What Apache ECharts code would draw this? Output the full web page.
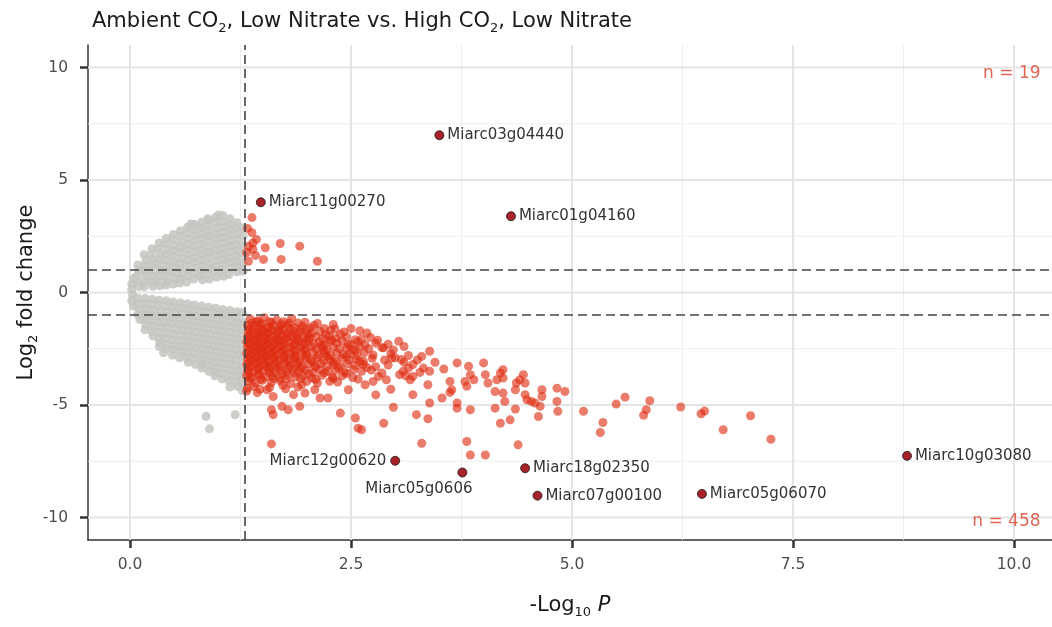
<!DOCTYPE html>
<html>
<head>
<meta charset="utf-8">
<title>Volcano plot</title>
<script src="https://cdn.jsdelivr.net/npm/echarts@6/dist/echarts.min.js"></script>
<style>
  html, body { margin: 0; padding: 0; background: #ffffff; }
  #chart { width: 1052px; height: 627px; }
</style>
</head>
<body>
<div id="chart"></div>
<script>
// ---- axis breaks ----
const xTicks = [0, 2.5, 5, 7.5, 10];
const yTicks = [-10, -5, 0, 5, 10];
const xMinorBreaks = [1.25, 3.75, 6.25, 8.75];
const yMinorBreaks = [-7.5, -2.5, 2.5, 7.5];
const xRange = [-0.475, 10.43];
const yRange = [-11, 11];

// ---- significance cut-offs ----
const pCutoff = 1.301;   // -log10(0.05)
const fcCutoff = 1;      // |log2 fold change|

// ---- genes that are not significant: [-log10 P, log2 FC] ----
const greyUpper = [
  [0.04,0.62],[0.02,0.38],[0.02,0.13],
  [0.09,1.22],[0.1,0.98],[0.08,0.74],[0.09,0.5],[0.1,0.26],
  [0.16,1.68],[0.18,1.44],[0.17,1.2],[0.16,0.96],[0.18,0.72],[0.17,0.48],[0.16,0.26],
  [0.25,1.95],[0.24,1.7],[0.26,1.46],[0.25,1.22],[0.24,0.98],[0.26,0.74],[0.25,0.5],[0.26,0.28],
  [0.33,2.2],[0.32,1.96],[0.34,1.72],[0.33,1.48],[0.32,1.24],[0.34,1.0],[0.33,0.76],[0.32,0.52],[0.34,0.3],
  [0.41,2.4],[0.4,2.16],[0.42,1.92],[0.41,1.68],[0.4,1.44],[0.42,1.2],[0.41,0.96],[0.4,0.72],[0.42,0.5],[0.41,0.33],
  [0.49,2.58],[0.48,2.34],[0.5,2.1],[0.49,1.86],[0.48,1.62],[0.5,1.38],[0.49,1.14],[0.48,0.9],[0.5,0.66],[0.49,0.38],
  [0.57,2.75],[0.56,2.5],[0.58,2.26],[0.57,2.02],[0.56,1.78],[0.58,1.54],[0.57,1.3],[0.56,1.06],[0.58,0.82],[0.57,0.6],[0.56,0.42],
  [0.65,2.9],[0.64,2.64],[0.66,2.4],[0.65,2.16],[0.64,1.92],[0.66,1.68],[0.65,1.44],[0.64,1.2],[0.66,0.96],[0.65,0.72],[0.64,0.46],
  [0.73,3.02],[0.72,2.78],[0.74,2.54],[0.73,2.3],[0.72,2.06],[0.74,1.82],[0.73,1.58],[0.72,1.34],[0.74,1.1],[0.73,0.86],[0.72,0.6],
  [0.81,3.12],[0.8,2.88],[0.82,2.64],[0.81,2.4],[0.8,2.16],[0.82,1.92],[0.81,1.68],[0.8,1.44],[0.82,1.2],[0.81,0.96],[0.8,0.74],[0.82,0.56],
  [0.89,3.22],[0.88,2.98],[0.9,2.74],[0.89,2.5],[0.88,2.26],[0.9,2.02],[0.89,1.78],[0.88,1.54],[0.9,1.3],[0.89,1.06],[0.88,0.82],[0.9,0.6],
  [0.97,3.35],[0.96,3.1],[0.98,2.86],[0.97,2.62],[0.96,2.38],[0.98,2.14],[0.97,1.9],[0.96,1.66],[0.98,1.42],[0.97,1.18],[0.96,0.94],[0.98,0.68],
  [1.05,3.42],[1.04,3.16],[1.06,2.92],[1.05,2.68],[1.04,2.44],[1.06,2.2],[1.05,1.96],[1.04,1.72],[1.06,1.48],[1.05,1.24],[1.04,1.0],[1.06,0.72],
  [1.13,3.28],[1.12,3.02],[1.14,2.78],[1.13,2.54],[1.12,2.3],[1.14,2.06],[1.13,1.82],[1.12,1.58],[1.14,1.34],[1.13,1.1],[1.12,0.8],
  [1.21,3.1],[1.2,2.85],[1.22,2.6],[1.21,2.36],[1.2,2.12],[1.22,1.88],[1.21,1.64],[1.2,1.4],[1.22,1.16],[1.21,0.92],
  [1.27,2.88],[1.28,2.5],[1.27,2.1],[1.28,1.7],[1.27,1.3],[1.28,0.95],
  [0.88,3.28],[1.0,3.45],[0.69,3.05]
];
const greyLower = [
  [0.03,-0.12],[0.02,-0.37],[0.04,-0.6],
  [0.09,-0.26],[0.08,-0.5],[0.1,-0.74],[0.09,-0.98],[0.11,-1.2],
  [0.17,-0.27],[0.16,-0.5],[0.18,-0.74],[0.17,-0.98],[0.16,-1.22],[0.18,-1.46],[0.17,-1.66],
  [0.25,-0.3],[0.24,-0.54],[0.26,-0.78],[0.25,-1.02],[0.24,-1.26],[0.26,-1.5],[0.25,-1.72],[0.26,-1.92],
  [0.33,-0.34],[0.32,-0.58],[0.34,-0.82],[0.33,-1.06],[0.32,-1.3],[0.34,-1.54],[0.33,-1.78],[0.32,-2.02],[0.34,-2.24],[0.33,-2.4],
  [0.41,-0.37],[0.4,-0.6],[0.42,-0.84],[0.41,-1.08],[0.4,-1.32],[0.42,-1.56],[0.41,-1.8],[0.4,-2.04],[0.42,-2.28],[0.41,-2.5],[0.38,-2.68],
  [0.49,-0.42],[0.48,-0.66],[0.5,-0.9],[0.49,-1.14],[0.48,-1.38],[0.5,-1.62],[0.49,-1.86],[0.48,-2.1],[0.5,-2.34],[0.49,-2.56],[0.48,-2.78],
  [0.57,-0.46],[0.56,-0.7],[0.58,-0.94],[0.57,-1.18],[0.56,-1.42],[0.58,-1.66],[0.57,-1.9],[0.56,-2.14],[0.58,-2.38],[0.57,-2.62],[0.56,-2.9],
  [0.65,-0.5],[0.64,-0.74],[0.66,-0.98],[0.65,-1.22],[0.64,-1.46],[0.66,-1.7],[0.65,-1.94],[0.64,-2.18],[0.66,-2.42],[0.65,-2.66],[0.64,-2.9],[0.66,-3.1],
  [0.73,-0.55],[0.72,-0.79],[0.74,-1.03],[0.73,-1.27],[0.72,-1.51],[0.74,-1.75],[0.73,-1.99],[0.72,-2.23],[0.74,-2.47],[0.73,-2.71],[0.72,-2.95],[0.74,-3.2],
  [0.81,-0.6],[0.8,-0.84],[0.82,-1.08],[0.81,-1.32],[0.8,-1.56],[0.82,-1.8],[0.81,-2.04],[0.8,-2.28],[0.82,-2.52],[0.81,-2.76],[0.8,-3.0],[0.82,-3.2],[0.81,-3.36],
  [0.89,-0.65],[0.88,-0.89],[0.9,-1.13],[0.89,-1.37],[0.88,-1.61],[0.9,-1.85],[0.89,-2.09],[0.88,-2.33],[0.9,-2.57],[0.89,-2.81],[0.88,-3.05],[0.9,-3.28],[0.89,-3.5],
  [0.97,-0.7],[0.96,-0.94],[0.98,-1.18],[0.97,-1.42],[0.96,-1.66],[0.98,-1.9],[0.97,-2.14],[0.96,-2.38],[0.98,-2.62],[0.97,-2.86],[0.96,-3.1],[0.98,-3.34],[0.97,-3.56],[0.96,-3.7],
  [1.05,-0.75],[1.04,-0.99],[1.06,-1.23],[1.05,-1.47],[1.04,-1.71],[1.06,-1.95],[1.05,-2.19],[1.04,-2.43],[1.06,-2.67],[1.05,-2.91],[1.04,-3.15],[1.06,-3.39],[1.05,-3.62],[1.04,-3.84],
  [1.13,-0.8],[1.12,-1.04],[1.14,-1.28],[1.13,-1.52],[1.12,-1.76],[1.14,-2.0],[1.13,-2.24],[1.12,-2.48],[1.14,-2.72],[1.13,-2.96],[1.12,-3.2],[1.14,-3.44],[1.13,-3.68],[1.12,-3.92],[1.13,-4.2],
  [1.21,-0.85],[1.2,-1.09],[1.22,-1.33],[1.21,-1.57],[1.2,-1.81],[1.22,-2.05],[1.21,-2.29],[1.2,-2.53],[1.22,-2.77],[1.21,-3.01],[1.2,-3.25],[1.22,-3.49],[1.21,-3.73],[1.2,-3.97],[1.22,-4.18],
  [1.27,-0.9],[1.28,-1.3],[1.27,-1.7],[1.28,-2.1],[1.27,-2.5],[1.28,-2.9],[1.27,-3.3],[1.28,-3.7],[1.27,-4.05],[1.27,-4.35],
  [0.86,-5.5],[0.9,-6.06],[1.19,-5.43]
];

// ---- significant, up-regulated (unlabelled) ----
const upSig = [
  [1.38,3.33],[1.33,2.85],[1.38,2.66],[1.43,2.36],[1.39,2.2],[1.34,2.06],[1.39,1.92],[1.32,1.78],
  [1.42,1.65],[1.53,1.99],[1.7,2.18],[1.92,2.06],[1.51,1.47],[1.71,1.47],[2.12,1.39],[1.34,1.39]
];

// ---- significant, down-regulated (unlabelled) ----
const downSig = [
  [1.36,-1.18],[1.45,-1.25],[1.58,-1.3],[1.66,-1.22],[1.74,-1.3],[1.83,-1.15],[1.52,-1.12],[1.9,-1.35],
  [1.33,-1.45],[1.4,-1.5],[1.47,-1.42],[1.55,-1.55],[1.62,-1.48],[1.7,-1.52],[1.78,-1.44],[1.86,-1.56],[1.95,-1.5],[2.08,-1.47],[2.2,-1.6],[1.5,-1.62],
  [1.34,-1.72],[1.39,-1.66],[1.44,-1.78],[1.5,-1.7],[1.56,-1.8],[1.61,-1.68],[1.67,-1.75],[1.73,-1.66],[1.79,-1.8],[1.85,-1.72],[1.92,-1.78],[2.0,-1.65],[2.06,-1.8],[2.15,-1.72],[2.27,-1.68],[2.42,-1.75],[2.6,-1.7],
  [1.33,-1.95],[1.37,-2.02],[1.42,-1.9],[1.47,-2.0],[1.52,-1.92],[1.57,-2.05],[1.62,-1.95],[1.68,-2.02],[1.72,-1.9],[1.78,-2.0],[1.84,-1.95],[1.9,-2.05],[1.96,-1.92],[2.03,-2.0],[2.1,-1.95],[2.18,-2.05],[2.25,-1.92],[2.33,-2.02],[2.45,-1.98],[2.55,-2.1],[2.72,-2.0],[2.8,-2.12],
  [1.32,-2.2],[1.36,-2.28],[1.41,-2.15],[1.45,-2.25],[1.5,-2.18],[1.55,-2.3],[1.59,-2.2],[1.64,-2.27],[1.69,-2.16],[1.74,-2.25],[1.8,-2.2],[1.86,-2.3],[1.91,-2.18],[1.97,-2.26],[2.02,-2.15],[2.08,-2.28],[2.14,-2.2],[2.2,-2.3],[2.26,-2.18],[2.34,-2.25],[2.4,-2.15],[2.5,-2.3],[2.58,-2.2],[2.66,-2.32],[2.78,-2.25],[2.92,-2.3],
  [1.33,-2.45],[1.38,-2.52],[1.42,-2.4],[1.47,-2.5],[1.51,-2.42],[1.56,-2.55],[1.6,-2.45],[1.65,-2.52],[1.7,-2.4],[1.75,-2.5],[1.81,-2.44],[1.87,-2.55],[1.93,-2.42],[1.99,-2.5],[2.05,-2.4],[2.11,-2.52],[2.17,-2.45],[2.23,-2.55],[2.3,-2.42],[2.37,-2.5],[2.45,-2.45],[2.52,-2.55],[2.6,-2.42],[2.7,-2.5],[2.85,-2.45],[3.1,-2.4],
  [1.32,-2.7],[1.37,-2.78],[1.41,-2.66],[1.46,-2.75],[1.5,-2.68],[1.55,-2.8],[1.6,-2.7],[1.65,-2.77],[1.71,-2.65],[1.76,-2.75],[1.82,-2.7],[1.88,-2.8],[1.94,-2.68],[2.0,-2.76],[2.07,-2.66],[2.13,-2.78],[2.2,-2.7],[2.27,-2.8],[2.34,-2.68],[2.41,-2.75],[2.49,-2.7],[2.57,-2.8],[2.65,-2.68],[2.75,-2.78],[2.95,-2.72],[3.15,-2.8],
  [1.33,-2.95],[1.38,-3.02],[1.43,-2.9],[1.48,-3.0],[1.53,-2.92],[1.58,-3.05],[1.63,-2.95],[1.69,-3.02],[1.74,-2.9],[1.8,-3.0],[1.86,-2.95],[1.92,-3.05],[1.98,-2.92],[2.05,-3.0],[2.12,-2.9],[2.19,-3.02],[2.26,-2.95],[2.33,-3.05],[2.4,-2.92],[2.48,-3.0],[2.56,-2.95],[2.64,-3.05],[2.74,-2.92],[2.88,-3.0],[3.0,-2.9],
  [1.32,-3.2],[1.37,-3.28],[1.42,-3.15],[1.47,-3.25],[1.52,-3.18],[1.58,-3.3],[1.63,-3.2],[1.69,-3.27],[1.75,-3.15],[1.81,-3.25],[1.88,-3.2],[1.95,-3.3],[2.02,-3.18],[2.09,-3.26],[2.16,-3.15],[2.23,-3.28],[2.3,-3.2],[2.38,-3.3],[2.46,-3.18],[2.55,-3.25],[2.64,-3.2],[2.78,-3.3],[2.92,-3.22],
  [1.33,-3.45],[1.39,-3.52],[1.45,-3.4],[1.51,-3.5],[1.57,-3.42],[1.63,-3.55],[1.7,-3.45],[1.77,-3.52],[1.84,-3.4],[1.91,-3.5],[1.99,-3.45],[2.07,-3.55],[2.15,-3.42],[2.24,-3.5],[2.33,-3.45],[2.43,-3.55],[2.53,-3.42],[2.62,-3.5],[2.73,-3.45],
  [1.32,-3.7],[1.38,-3.78],[1.45,-3.66],[1.53,-3.75],[1.61,-3.7],[1.69,-3.8],[1.78,-3.68],[1.87,-3.76],[1.96,-3.7],[2.06,-3.8],[2.17,-3.68],[2.29,-3.75],[2.4,-3.7],[2.52,-3.78],
  [1.34,-3.95],[1.42,-4.02],[1.5,-3.9],[1.6,-4.0],[1.7,-3.92],[1.82,-4.05],[2.0,-3.95],[2.12,-4.02],[2.35,-3.98],
  [1.33,-4.25],[1.4,-4.18],[1.47,-4.3],[1.58,-4.22],[1.76,-4.28],[1.9,-4.2],
  [1.38,-1.35],[1.49,-1.38],[1.6,-1.33],[1.71,-1.4],[1.8,-1.36],[1.98,-1.32],[2.12,-1.38],[2.3,-1.42],[1.43,-1.3],
  [1.35,-1.6],[1.46,-1.63],[1.58,-1.58],[1.69,-1.62],[1.81,-1.6],[1.93,-1.63],[2.04,-1.58],[2.32,-1.62],[2.5,-1.6],
  [1.36,-1.85],[1.46,-1.88],[1.55,-1.84],[1.65,-1.87],[1.76,-1.85],[1.88,-1.88],[2.01,-1.84],[2.21,-1.87],[2.38,-1.85],
  [1.35,-2.08],[1.44,-2.1],[1.54,-2.07],[1.66,-2.1],[1.76,-2.08],[1.87,-2.11],[2.0,-2.07],[2.28,-2.1],[2.62,-2.08],
  [1.35,-2.33],[1.44,-2.36],[1.53,-2.32],[1.62,-2.35],[1.72,-2.33],[1.84,-2.36],[1.95,-2.32],[2.17,-2.35],[2.47,-2.33],
  [1.35,-2.58],[1.44,-2.61],[1.53,-2.57],[1.63,-2.6],[1.73,-2.58],[1.85,-2.61],[1.97,-2.57],[2.2,-2.6],[2.55,-2.58],
  [1.35,-2.83],[1.44,-2.86],[1.53,-2.82],[1.63,-2.85],[1.74,-2.83],[1.86,-2.86],[1.99,-2.82],[2.23,-2.85],[2.45,-2.83],
  [1.35,-3.08],[1.45,-3.11],[1.55,-3.07],[1.66,-3.1],[1.78,-3.08],[1.9,-3.11],[2.06,-3.07],[2.3,-3.1],[2.6,-3.08],
  [1.35,-3.33],[1.45,-3.36],[1.55,-3.32],[1.66,-3.35],[1.79,-3.33],[1.93,-3.36],[2.1,-3.32],[2.36,-3.35],[2.68,-3.33],
  [1.35,-3.58],[1.46,-3.61],[1.58,-3.57],[1.72,-3.6],[1.86,-3.58],[2.02,-3.61],[2.2,-3.57],[2.45,-3.6],[2.85,-3.58],
  [1.36,-3.83],[1.48,-3.86],[1.62,-3.82],[1.77,-3.85],[1.93,-3.83],[2.1,-3.86],[2.3,-3.82],[2.58,-3.85],[2.75,-3.95],
  [2.68,-1.8],[3.04,-2.17],[2.87,-2.46],[2.96,-2.91],[3.07,-2.98],[3.2,-3.2],[3.2,-3.73],[3.05,-3.65],[2.9,-3.88],[2.81,-3.73],
  [2.66,-4.1],[2.47,-4.32],[2.26,-3.95],[2.15,-4.69],[2.24,-4.69],[1.62,-4.62],[1.85,-4.54],[1.92,-5.06],[1.72,-5.06],[1.79,-5.21],
  [1.6,-5.21],[1.62,-5.43],[2.38,-5.36],[2.55,-5.58],[2.58,-6.03],[2.62,-6.1],[2.87,-5.81],[2.98,-5.1],[3.2,-4.54],[3.24,-5.43],
  [1.6,-6.73],[1.32,-4.38],[1.44,-4.45],[1.55,-4.32],[1.98,-4.47],[2.09,-4.32],[1.94,-4.1],[1.73,-4.12],[3.39,-2.61],[3.3,-2.84],
  [3.09,-3.5],[3.17,-3.88],[3.32,-3.36],[3.39,-3.5],[3.37,-4.1],[3.39,-4.91],[3.37,-5.61],[3.3,-6.7],[3.53,-4.69],[3.62,-3.95],
  [3.62,-4.44],[3.7,-3.13],[3.7,-4.91],[3.7,-5.14],[3.79,-3.95],[3.83,-3.28],[3.85,-3.65],[3.89,-3.88],[3.85,-5.21],[3.81,-6.62],
  [3.85,-7.22],[4.02,-7.22],[4.0,-3.13],[4.02,-3.65],[4.05,-4.02],[4.15,-3.88],[4.19,-3.58],[4.22,-3.43],[4.22,-3.8],[4.13,-4.4],
  [4.22,-4.47],[4.24,-4.84],[4.13,-5.14],[4.19,-5.81],[4.36,-4.32],[4.36,-5.18],[4.41,-3.88],[4.45,-3.65],[4.47,-4.02],[4.39,-6.77],
  [4.47,-4.54],[4.49,-4.77],[4.54,-4.84],[4.58,-4.91],[4.64,-5.06],[4.66,-4.32],[4.66,-4.62],[4.62,-5.51],[4.83,-4.25],[4.92,-4.4],
  [4.83,-4.84],[4.84,-5.28],[5.13,-5.28],[5.35,-5.78],[5.32,-6.22],[5.5,-4.96],[5.6,-4.65],[5.88,-4.81],[5.84,-5.21],[5.81,-5.46],
  [6.23,-5.09],[6.46,-5.39],[6.5,-5.27],[6.71,-6.1],[7.02,-5.48],[7.25,-6.52],[3.64,-4.32],[3.81,-4.17],[4.37,-4.02],[4.3,-5.66],
  [3.1,-3.1],[3.15,-3.35],[3.25,-3.0],[3.28,-3.55],[3.12,-3.7],[2.98,-2.55],[3.45,-3.1],[3.55,-3.4],[2.95,-4.3],[2.78,-4.55]
];

// ---- named genes: [gene, -log10 P, log2 FC] ----
const namedGenes = [
  ['Miarc03g04440', 3.50, 6.99],
  ['Miarc11g00270', 1.48, 4.01],
  ['Miarc01g04160', 4.31, 3.39],
  ['Miarc12g00620', 3.00, -7.48],
  ['Miarc05g0606', 3.76, -8.00],
  ['Miarc18g02350', 4.47, -7.81],
  ['Miarc07g00100', 4.61, -9.03],
  ['Miarc05g06070', 6.47, -8.95],
  ['Miarc10g03080', 8.79, -7.26]
];

// ---- drawing ----
const FONT = "'DejaVu Sans', 'Liberation Sans', Arial, sans-serif";
const countColor = '#d8412b';

// label placement for a few genes whose text sits left of / below the point
const labelPlacement = {
  'Miarc12g00620': { position: 'left', distance: 4 },
  'Miarc05g0606': { position: 'left', distance: 4, offset: [19, 17] }
};

const upCount = upSig.length + namedGenes.filter(g => g[2] > 0).length;
const downCount = downSig.length + namedGenes.filter(g => g[2] < 0).length;

function segment(name, points, style, z) {
  return {
    name: name, type: 'line', data: points, symbol: 'none', silent: true,
    animation: false, z: z, lineStyle: style, clip: true
  };
}

const guideSeries = [];
xMinorBreaks.forEach(v => guideSeries.push(segment('gx' + v, [[v, yRange[0]], [v, yRange[1]]], { color: '#eeeeee', width: 1 }, 0)));
yMinorBreaks.forEach(v => guideSeries.push(segment('gy' + v, [[xRange[0], v], [xRange[1], v]], { color: '#eeeeee', width: 1 }, 0)));
xTicks.forEach(v => guideSeries.push(segment('GX' + v, [[v, yRange[0]], [v, yRange[1]]], { color: '#e5e5e5', width: 2 }, 0)));
yTicks.forEach(v => guideSeries.push(segment('GY' + v, [[xRange[0], v], [xRange[1], v]], { color: '#e5e5e5', width: 2 }, 0)));

const dash = { color: '#444444', width: 1.6, type: [9, 5] };
const cutSeries = [
  segment('pcut', [[pCutoff, yRange[0]], [pCutoff, yRange[1]]], dash, 5),
  segment('fcUp', [[xRange[0], fcCutoff], [xRange[1], fcCutoff]], dash, 5),
  segment('fcDown', [[xRange[0], -fcCutoff], [xRange[1], -fcCutoff]], dash, 5)
];

const chart = echarts.init(document.getElementById('chart'), null, { renderer: 'canvas' });

const txt = { fontSize: 21, lineHeight: 26, fontFamily: FONT, fontWeight: 'normal', color: '#1a1a1a' };
const sub = { fontSize: 13, lineHeight: 8, verticalAlign: 'bottom', fontFamily: FONT, fontWeight: 'normal', color: '#1a1a1a' };

chart.setOption({
  animation: false,
  backgroundColor: '#ffffff',
  textStyle: { fontFamily: FONT },
  title: {
    text: '{n|Ambient CO}{s|2}{n|, Low Nitrate vs. High CO}{s|2}{n|, Low Nitrate}',
    left: 87,
    top: 4,
    textStyle: {
      fontWeight: 'normal',
      rich: { n: txt, s: sub }
    }
  },
  grid: { left: 88, right: 0, top: 45, bottom: 87, containLabel: false },
  xAxis: {
    type: 'value',
    min: xRange[0],
    max: xRange[1],
    name: '{n|-Log}{s|10}{n| }{i|P}',
    nameLocation: 'middle',
    nameGap: 53,
    nameMoveOverlap: false,
    nameTextStyle: {
      rich: { n: txt, s: sub, i: Object.assign({}, txt, { fontStyle: 'italic' }) }
    },
    axisLine: { show: true, onZero: false, lineStyle: { color: '#333333', width: 1.5 } },
    axisTick: { show: true, customValues: xTicks, length: 8, lineStyle: { color: '#333333', width: 2.5 } },
    axisLabel: {
      customValues: xTicks, margin: 17, color: '#4d4d4d', fontSize: 15.5, fontFamily: FONT,
      formatter: v => Number(v).toFixed(1)
    },
    splitLine: { show: false }
  },
  yAxis: {
    type: 'value',
    min: yRange[0],
    max: yRange[1],
    name: '{n|Log}{s|2}{n| fold change}',
    nameLocation: 'middle',
    nameGap: 48,
    nameMoveOverlap: false,
    nameRotate: 90,
    nameTextStyle: {
      rich: { n: txt, s: sub }
    },
    axisLine: { show: true, onZero: false, lineStyle: { color: '#333333', width: 1.5 } },
    axisTick: { show: true, customValues: yTicks, length: 8, lineStyle: { color: '#333333', width: 2.5 } },
    axisLabel: {
      customValues: yTicks, margin: 20, color: '#4d4d4d', fontSize: 15.5, fontFamily: FONT,
      formatter: v => String(v)
    },
    splitLine: { show: false }
  },
  series: guideSeries.concat([
    {
      name: 'NS', type: 'scatter', z: 2, silent: true,
      data: greyUpper.concat(greyLower),
      symbolSize: 9,
      itemStyle: { color: '#c4c4c1', opacity: 0.85 }
    },
    {
      name: 'Significant', type: 'scatter', z: 3, silent: true,
      data: upSig.concat(downSig),
      symbolSize: 9,
      itemStyle: { color: '#df2c10', opacity: 0.62 }
    }
  ], cutSeries, [
    {
      name: 'Named', type: 'scatter', z: 6, silent: true,
      symbolSize: 9,
      itemStyle: { color: '#a8222a', borderColor: '#1a1a1a', borderWidth: 0.8, opacity: 1 },
      label: {
        show: true, position: 'right', distance: 3, formatter: '{b}',
        color: '#333333', fontSize: 15, fontFamily: FONT
      },
      data: namedGenes.map(g => Object.assign(
        { name: g[0], value: [g[1], g[2]] },
        labelPlacement[g[0]] ? { label: labelPlacement[g[0]] } : {}
      ))
    },
    {
      name: 'Counts', type: 'scatter', z: 7, silent: true,
      symbolSize: 0,
      label: {
        show: true, position: 'left', distance: 0, formatter: '{b}',
        color: countColor, fontSize: 17, fontFamily: FONT
      },
      data: [
        { name: 'n = ' + upCount, value: [10.3, 9.75] },
        { name: 'n = ' + downCount, value: [10.3, -10.2] }
      ]
    }
  ])
});
</script>
</body>
</html>
